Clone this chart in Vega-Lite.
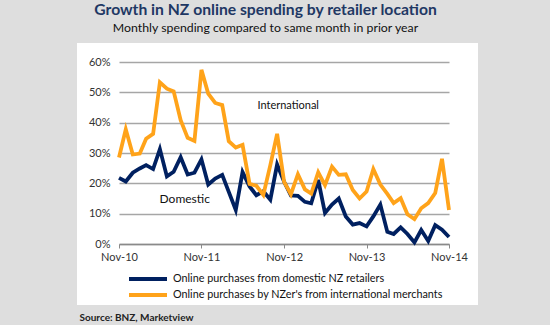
{
  "$schema": "https://vega.github.io/schema/vega-lite/v6.json",
  "autosize": {"type": "none"},
  "width": 401,
  "height": 262,
  "padding": {"left": 77, "top": 43, "right": 72, "bottom": 20},
  "background": "#dedede",
  "view": {"fill": "white", "stroke": null},
  "title": {
    "text": "Growth in NZ online spending by retailer location",
    "subtitle": "Monthly spending compared to same month in prior year",
    "anchor": "middle",
    "dx": -12,
    "offset": 8,
    "font": "Lato",
    "fontSize": 15.7,
    "fontWeight": "bold",
    "color": "#1f3864",
    "subtitleFont": "Lato",
    "subtitleFontSize": 12.3,
    "subtitleColor": "#111111",
    "subtitlePadding": 3
  },
  "config": {
    "font": "Lato",
    "axis": {"labelFont": "Lato", "labelFontSize": 11, "labelColor": "#333333"}
  },
  "datasets": {
    "growth": [
      {"date": "2010/11/01", "Domestic": 21.8, "International": 28.5},
      {"date": "2010/12/01", "Domestic": 20.6, "International": 37.8},
      {"date": "2011/01/01", "Domestic": 23.5, "International": 29.5},
      {"date": "2011/02/01", "Domestic": 24.9, "International": 29.8},
      {"date": "2011/03/01", "Domestic": 26.0, "International": 34.7},
      {"date": "2011/04/01", "Domestic": 24.7, "International": 36.3},
      {"date": "2011/05/01", "Domestic": 31.3, "International": 53.3},
      {"date": "2011/06/01", "Domestic": 22.3, "International": 51.2},
      {"date": "2011/07/01", "Domestic": 23.8, "International": 50.3},
      {"date": "2011/08/01", "Domestic": 28.6, "International": 40.8},
      {"date": "2011/09/01", "Domestic": 22.9, "International": 35.0},
      {"date": "2011/10/01", "Domestic": 23.5, "International": 34.0},
      {"date": "2011/11/01", "Domestic": 27.9, "International": 57.4},
      {"date": "2011/12/01", "Domestic": 19.6, "International": 49.6},
      {"date": "2012/01/01", "Domestic": 21.6, "International": 46.5},
      {"date": "2012/02/01", "Domestic": 22.8, "International": 45.8},
      {"date": "2012/03/01", "Domestic": 17.2, "International": 33.9},
      {"date": "2012/04/01", "Domestic": 11.2, "International": 31.8},
      {"date": "2012/05/01", "Domestic": 23.7, "International": 32.7},
      {"date": "2012/06/01", "Domestic": 19.0, "International": 19.8},
      {"date": "2012/07/01", "Domestic": 16.1, "International": 19.2},
      {"date": "2012/08/01", "Domestic": 17.4, "International": 16.2},
      {"date": "2012/09/01", "Domestic": 14.6, "International": 26.0},
      {"date": "2012/10/01", "Domestic": 26.2, "International": 36.3},
      {"date": "2012/11/01", "Domestic": 20.5, "International": 20.5},
      {"date": "2012/12/01", "Domestic": 16.0, "International": 16.4},
      {"date": "2013/01/01", "Domestic": 15.9, "International": 23.0},
      {"date": "2013/02/01", "Domestic": 13.9, "International": 18.0},
      {"date": "2013/03/01", "Domestic": 13.4, "International": 16.6},
      {"date": "2013/04/01", "Domestic": 21.1, "International": 23.6},
      {"date": "2013/05/01", "Domestic": 10.2, "International": 19.4},
      {"date": "2013/06/01", "Domestic": 13.0, "International": 25.5},
      {"date": "2013/07/01", "Domestic": 15.0, "International": 22.8},
      {"date": "2013/08/01", "Domestic": 9.1, "International": 23.0},
      {"date": "2013/09/01", "Domestic": 6.4, "International": 17.8},
      {"date": "2013/10/01", "Domestic": 6.9, "International": 15.0},
      {"date": "2013/11/01", "Domestic": 5.8, "International": 17.3},
      {"date": "2013/12/01", "Domestic": 9.1, "International": 24.7},
      {"date": "2014/01/01", "Domestic": 13.0, "International": 19.6},
      {"date": "2014/02/01", "Domestic": 4.0, "International": 16.5},
      {"date": "2014/03/01", "Domestic": 3.3, "International": 13.5},
      {"date": "2014/04/01", "Domestic": 5.5, "International": 15.1},
      {"date": "2014/05/01", "Domestic": 3.3, "International": 9.8},
      {"date": "2014/06/01", "Domestic": 0.5, "International": 8.2},
      {"date": "2014/07/01", "Domestic": 4.6, "International": 11.8},
      {"date": "2014/08/01", "Domestic": 1.0, "International": 13.5},
      {"date": "2014/09/01", "Domestic": 6.2, "International": 16.8},
      {"date": "2014/10/01", "Domestic": 4.7, "International": 28.1},
      {"date": "2014/11/01", "Domestic": 2.3, "International": 11.2}
    ]
  },
  "layer": [
    {
      "data": {"name": "growth"},
      "transform": [{"fold": ["Domestic", "International"], "as": ["series", "value"]}],
      "mark": {"type": "line", "strokeWidth": 3.8, "strokeJoin": "miter"},
      "encoding": {
        "x": {
          "field": "date",
          "type": "temporal",
          "scale": {
            "domain": [{"year": 2010, "month": 11, "date": 1}, {"year": 2014, "month": 11, "date": 1}],
            "range": [42, 372],
            "nice": false
          },
          "axis": {
            "title": null,
            "values": [
              {"year": 2010, "month": 11, "date": 1},
              {"year": 2011, "month": 11, "date": 1},
              {"year": 2012, "month": 11, "date": 1},
              {"year": 2013, "month": 11, "date": 1},
              {"year": 2014, "month": 11, "date": 1}
            ],
            "format": "%b-%y",
            "offset": -61,
            "grid": false,
            "domainColor": "#8a8a8a",
            "domainWidth": 1.5,
            "tickColor": "#8a8a8a",
            "tickSize": 4,
            "tickWidth": 1,
            "labelPadding": 3,
            "labelFlush": false
          }
        },
        "y": {
          "field": "value",
          "type": "quantitative",
          "scale": {"domain": [0, 60], "range": [201, 19], "nice": false, "zero": true},
          "axis": {
            "title": null,
            "values": [0, 10, 20, 30, 40, 50, 60],
            "labelExpr": "datum.value + '%'",
            "offset": -42,
            "domain": false,
            "ticks": false,
            "labelPadding": 9,
            "gridColor": "#a6a6a6",
            "gridWidth": 1.3
          }
        },
        "color": {
          "field": "series",
          "type": "nominal",
          "scale": {"domain": ["Domestic", "International"], "range": ["#002060", "#ffa31a"]},
          "legend": {
            "orient": "none",
            "legendX": 64,
            "legendY": 229,
            "direction": "vertical",
            "title": null,
            "padding": 0,
            "symbolType": "M-3.8,0H3.8",
            "symbolSize": 100,
            "symbolStrokeWidth": 4,
            "labelOffset": 18,
            "rowPadding": 0,
            "labelFont": "Lato",
            "labelFontSize": 10.8,
            "labelColor": "#111111",
            "labelLimit": 400,
            "labelExpr": "datum.label == 'Domestic' ? 'Online purchases from domestic NZ retailers' : \"Online purchases by NZer's from international merchants\""
          }
        }
      }
    },
    {
      "data": {"values": [{}]},
      "mark": {"type": "text", "font": "Lato", "fontSize": 12, "color": "#111111", "align": "center", "baseline": "middle"},
      "encoding": {
        "x": {"datum": {"year": 2011, "month": 8, "date": 19}, "type": "temporal"},
        "y": {"datum": 15, "type": "quantitative"},
        "text": {"value": "Domestic"}
      }
    },
    {
      "data": {"values": [{}]},
      "mark": {"type": "text", "font": "Lato", "fontSize": 11, "color": "#111111", "align": "center", "baseline": "middle"},
      "encoding": {
        "x": {"datum": {"year": 2012, "month": 11, "date": 19}, "type": "temporal"},
        "y": {"datum": 45.5, "type": "quantitative"},
        "text": {"value": "International"}
      }
    },
    {
      "data": {"values": [{}]},
      "mark": {"type": "text", "font": "Lato", "fontSize": 10, "fontWeight": "bold", "color": "#222222", "align": "left", "baseline": "middle"},
      "encoding": {
        "x": {"datum": {"year": 2010, "month": 5, "date": 10}, "type": "temporal"},
        "y": {"datum": -24.4, "type": "quantitative"},
        "text": {"value": "Source: BNZ, Marketview"}
      }
    }
  ]
}
